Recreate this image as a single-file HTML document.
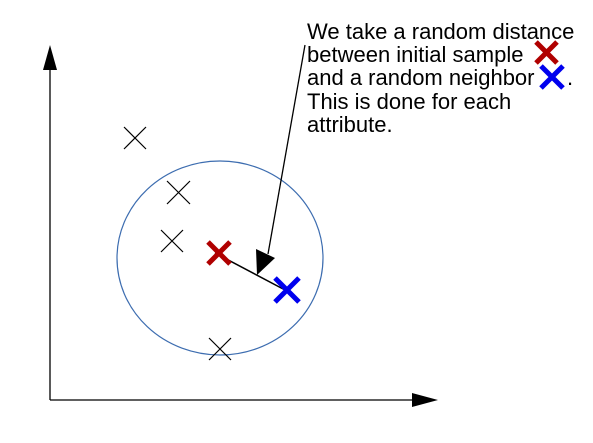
<!DOCTYPE html>
<html><head><style>
body{margin:0;background:#fff}
svg{display:block}
text{font-family:"Liberation Sans",sans-serif;font-size:22px;fill:#000}
</style></head><body>
<svg width="593" height="443">
<g>
<line x1="50" y1="400" x2="50" y2="62" stroke="#000" stroke-width="1.3"/>
<polygon points="50,45 43,70 57,70" fill="#000"/>
<line x1="50" y1="400" x2="418" y2="400" stroke="#000" stroke-width="1.3"/>
<polygon points="438,400 412,393 412,407" fill="#000"/>
</g>
<ellipse cx="220" cy="258" rx="103" ry="97" fill="none" stroke="#3d6db0" stroke-width="1.2"/>
<g stroke="#000" stroke-width="1.2">
<path d="M124,127L146,149M146,127L124,149"/>
<path d="M167,181L190,204M190,181L167,204"/>
<path d="M161,230L183,252M183,230L161,252"/>
<path d="M209,338L231,360M231,338L209,360"/>
</g>
<line x1="215" y1="253" x2="285" y2="290" stroke="#000" stroke-width="1.5"/>
<path d="M208,242L230,264M230,242L208,264" stroke="#b00000" stroke-width="5"/>
<path d="M275,278L299,302M299,278L275,302" stroke="#0000ee" stroke-width="5"/>
<g>
<line x1="305" y1="45" x2="268" y2="254" stroke="#000" stroke-width="1.3"/>
<polygon points="257,275 256,249 275,258" fill="#000"/>
</g>
<g>
<text x="307" y="39">We take a random distance</text>
<text x="307" y="62">between initial sample</text>
<text x="307" y="85">and a random neighbor</text>
<text x="567" y="85">.</text>
<text x="307" y="109">This is done for each</text>
<text x="307" y="132">attribute.</text>
<path d="M536,42L557,63M557,42L536,63" stroke="#b00000" stroke-width="5"/>
<path d="M541,66L563,88M563,66L541,88" stroke="#0000ee" stroke-width="5"/>
</g>
</svg>
</body></html>
